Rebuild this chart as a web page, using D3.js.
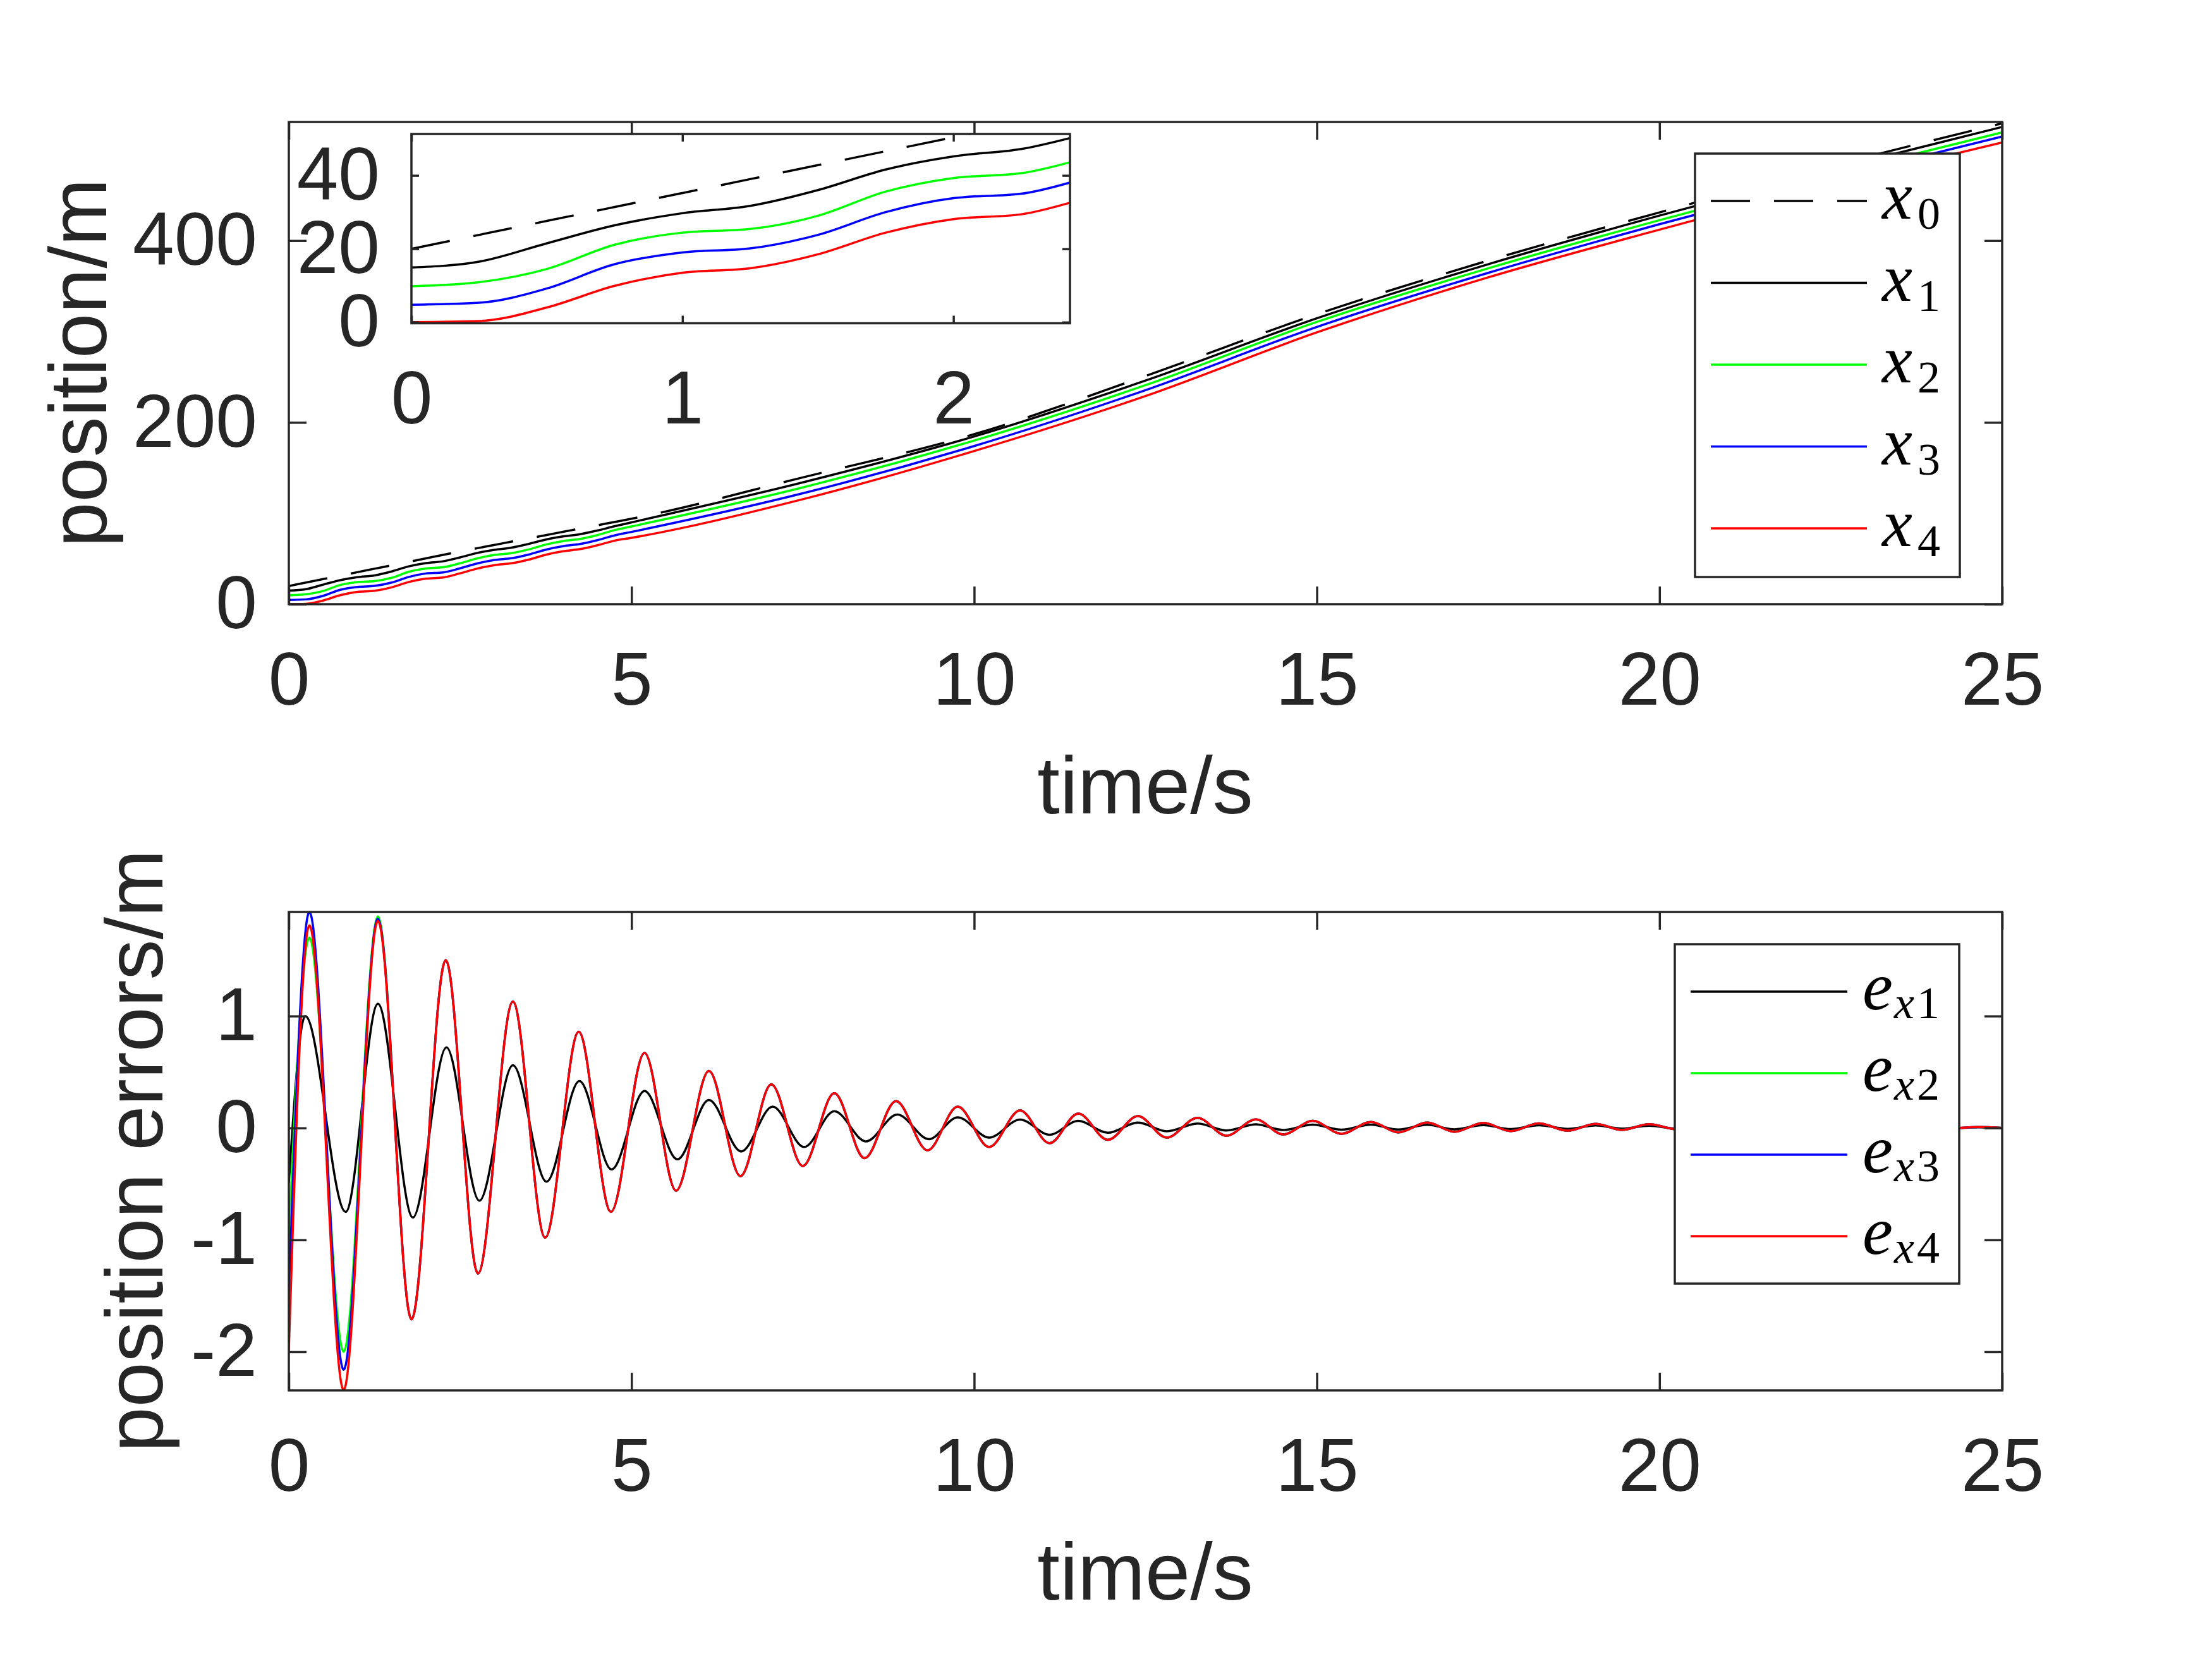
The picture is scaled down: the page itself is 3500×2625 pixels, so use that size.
<!DOCTYPE html>
<html>
<head>
<meta charset="utf-8">
<script src="https://cdn.jsdelivr.net/npm/d3@7"></script>
<style>
  body { margin: 0; background: #fff; }
</style>
</head>
<body>
<svg id="chart"></svg>
<script>
// positions
const posTime = [0, 0.25, 0.5, 0.75, 1, 1.25, 1.5, 1.75, 2, 2.25, 2.5, 2.75, 3, 3.25, 3.5, 3.75, 4, 4.25, 4.5, 4.75, 5, 7.5, 10, 12.5, 15, 17.5, 20, 22.5, 25]
const x0 = [20, 23.8, 27.6, 31.4, 35.2, 39, 42.8, 46.6, 50.4, 54.2, 58, 61.6, 65.2, 68.8, 72.4, 76, 79.6, 83.2, 86.8, 90.4, 94, 139.5, 187, 251, 319, 378, 431, 482, 529]
const x1 = [14.9, 16.5, 21.5, 26.4, 29.7, 31.7, 36, 41.6, 45.2, 47.2, 51.5, 56.4, 59.8, 62.2, 66.3, 71.1, 74.5, 77, 81, 85.7, 90, 134, 184.5, 246, 314.5, 374, 427.5, 478, 525]
const x2 = [9.8, 10.9, 14.5, 21.1, 24.4, 25.4, 29.0, 35.6, 39.3, 40.6, 45, 50.4, 54.2, 56.2, 60.2, 65.6, 69.4, 71.8, 76, 81.4, 85.5, 128.5, 180, 241, 310.5, 369.5, 422.5, 472.5, 519]
const x3 = [4.75, 5.3, 9.2, 15.8, 19.0, 20.1, 23.8, 30.0, 33.8, 35.0, 39.5, 44.8, 48.6, 50.6, 54.6, 60, 63.8, 66.2, 70.4, 75.6, 79.5, 122, 174, 235.5, 305, 364.5, 418, 468, 514.5]
const x4 = [0, 0.3, 4.0, 9.9, 13.5, 14.7, 18.5, 24.4, 28.1, 29.4, 34, 39.2, 43, 45, 49, 54.4, 58.2, 60.6, 64.8, 69.8, 73, 115.5, 168.5, 229, 299, 359.5, 412, 462, 508]

// position errors, peaks and troughs
const errTime1 = [0, 0.24, 0.83, 1.30, 1.81, 2.30, 2.78, 3.27, 3.76, 4.24, 4.71, 5.19, 5.67, 6.13, 6.60, 7.06, 7.52, 7.96, 8.42, 8.88, 9.34, 9.76, 10.22, 10.67, 11.10, 11.52, 11.95, 12.39, 12.81, 13.26, 13.68, 14.11, 14.51, 14.94, 15.36, 15.79, 16.19, 16.61, 17.01, 17.43, 17.83, 18.24, 18.66, 19.07, 19.45, 19.85, 20.25, 20.65, 21.05, 21.45, 21.85, 22.25, 22.65, 23.05, 23.45, 23.85, 24.25, 24.65, 25]
const ex1 = [-0.49, 1.0, -0.75, 1.11, -0.80, 0.72, -0.65, 0.56, -0.48, 0.42, -0.37, 0.33, -0.28, 0.25, -0.21, 0.19, -0.17, 0.15, -0.12, 0.12, -0.10, 0.095, -0.086, 0.075, -0.06, 0.063, -0.043, 0.048, -0.03, 0.039, -0.022, 0.032, -0.018, 0.03, -0.016, 0.03, -0.014, 0.028, -0.012, 0.026, -0.01, 0.024, -0.008, 0.022, -0.006, 0.02, -0.005, 0.017, -0.004, 0.014, -0.003, 0.012, -0.002, 0.01, -0.002, 0.008, -0.001, 0.005, 0]
const errTime = [0, 0.30, 0.80, 1.30, 1.79, 2.29, 2.76, 3.27, 3.74, 4.23, 4.70, 5.19, 5.65, 6.13, 6.59, 7.04, 7.50, 7.96, 8.40, 8.86, 9.32, 9.76, 10.22, 10.67, 11.10, 11.52, 11.95, 12.39, 12.81, 13.26, 13.68, 14.11, 14.51, 14.94, 15.36, 15.79, 16.19, 16.61, 17.01, 17.43, 17.83, 18.24, 18.66, 19.07, 19.45, 19.85, 20.25, 20.65, 21.05, 21.45, 21.85, 22.25, 22.65, 23.05, 23.45, 23.85, 24.25, 24.65, 25]
const errTail = [-1.71, 1.50, -1.30, 1.13, -0.98, 0.86, -0.75, 0.67, -0.56, 0.51, -0.43, 0.39, -0.34, 0.31, -0.27, 0.24, -0.20, 0.19, -0.17, 0.157, -0.136, 0.129, -0.106, 0.106, -0.086, 0.091, -0.069, 0.076, -0.058, 0.063, -0.052, 0.054, -0.039, 0.048, -0.034, 0.045, -0.028, 0.041, -0.024, 0.037, -0.017, 0.034, -0.012, 0.028, -0.01, 0.024, -0.008, 0.02, -0.006, 0.016, -0.004, 0.012, -0.003, 0.008, 0]
const ex2 = [-0.98, 1.70, -2.0, 1.89].concat(errTail)
const ex3 = [-1.49, 1.93, -2.16, 1.87].concat(errTail)
const ex4 = [-1.99, 1.81, -2.34, 1.85].concat(errTail)

const timeTicks = [0, 5, 10, 15, 20, 25]
const posTicks = [0, 200, 400]
const errTicks = [-2, -1, 0, 1]
const insetTimeTicks = [0, 1, 2]
const insetPosTicks = [0, 20, 40]

const posSeries = [
  { name: "0", values: x0, color: "#000000", dash: "62,38" },
  { name: "1", values: x1, color: "#000000" },
  { name: "2", values: x2, color: "#00ff00" },
  { name: "3", values: x3, color: "#0000ff" },
  { name: "4", values: x4, color: "#ff0000" }
]
const errSeries = [
  { name: "1", time: errTime1, values: ex1, color: "#000000" },
  { name: "2", time: errTime, values: ex2, color: "#00ff00" },
  { name: "3", time: errTime, values: ex3, color: "#0000ff" },
  { name: "4", time: errTime, values: ex4, color: "#ff0000" }
]

const width = 3500, height = 2625
const ink = "#262626"
const sans = "'Liberation Sans', Arial, sans-serif"
const serif = "'Liberation Serif', 'Times New Roman', serif"

const svg = d3.select("#chart").attr("width", width).attr("height", height)
svg.append("rect").attr("width", width).attr("height", height).attr("fill", "#fff")
const defs = svg.append("defs")

const xTop = d3.scaleLinear().domain([0, 25]).range([457, 3168])
const yTop = d3.scaleLinear().domain([0, 530.5]).range([956, 193])
const xBot = d3.scaleLinear().domain([0, 25]).range([457, 3168])
const yBot = d3.scaleLinear().domain([-2.345, 1.93]).range([2200, 1443])
const xIn = d3.scaleLinear().domain([0, 2.43]).range([651, 1693])
const yIn = d3.scaleLinear().domain([-0.3, 51.3]).range([511.5, 212])

function clip(id, x, y) {
  defs.append("clipPath").attr("id", id)
    .append("rect")
    .attr("x", x.range()[0]).attr("y", y.range()[1])
    .attr("width", x.range()[1] - x.range()[0])
    .attr("height", y.range()[0] - y.range()[1])
}

function styleAxis(g) {
  g.select(".domain").remove()
  g.selectAll("line").attr("stroke", ink).attr("stroke-width", 3.5)
  g.selectAll("text")
    .attr("fill", ink)
    .attr("font-family", sans)
    .attr("font-size", 118)
}

function frame(g, x, y, xt, yt, tick) {
  const [l, r] = x.range()
  const [b, t] = y.range()
  const fmt = d => String(d)
  g.append("g").attr("transform", `translate(0,${b})`)
    .call(d3.axisBottom(x).tickValues(xt).tickSizeInner(-tick).tickSizeOuter(0).tickPadding(75).tickFormat(fmt))
    .call(styleAxis)
  g.append("g").attr("transform", `translate(0,${t})`)
    .call(d3.axisTop(x).tickValues(xt).tickSizeInner(-tick).tickSizeOuter(0).tickFormat(""))
    .call(styleAxis)
  g.append("g").attr("transform", `translate(${l},0)`)
    .call(d3.axisLeft(y).tickValues(yt).tickSizeInner(-tick).tickSizeOuter(0).tickPadding(50).tickFormat(fmt))
    .call(styleAxis)
  g.append("g").attr("transform", `translate(${r},0)`)
    .call(d3.axisRight(y).tickValues(yt).tickSizeInner(-tick).tickSizeOuter(0).tickFormat(""))
    .call(styleAxis)
  g.append("rect")
    .attr("x", l).attr("y", t)
    .attr("width", r - l).attr("height", b - t)
    .attr("fill", "none").attr("stroke", ink).attr("stroke-width", 3.5)
}

function drawLines(g, x, y, series, clipId, timeOf) {
  const line = d3.line().curve(d3.curveMonotoneX)
  g.append("g").attr("clip-path", `url(#${clipId})`)
    .selectAll("path")
    .data(series)
    .join("path")
    .attr("d", s => line(s.values.map((v, i) => [x(timeOf(s)[i]), y(v)])))
    .attr("fill", "none")
    .attr("stroke", s => s.color)
    .attr("stroke-width", 3.5)
    .attr("stroke-dasharray", s => s.dash || null)
}

// top panel
clip("clipTop", xTop, yTop)
const topPanel = svg.append("g")
drawLines(topPanel, xTop, yTop, posSeries, "clipTop", () => posTime)
frame(topPanel, xTop, yTop, timeTicks, posTicks, 28)

// inset
clip("clipIn", xIn, yIn)
const inset = svg.append("g")
inset.append("rect")
  .attr("x", xIn.range()[0]).attr("y", yIn.range()[1])
  .attr("width", xIn.range()[1] - xIn.range()[0])
  .attr("height", yIn.range()[0] - yIn.range()[1])
  .attr("fill", "#fff")
drawLines(inset, xIn, yIn, posSeries, "clipIn", () => posTime)
frame(inset, xIn, yIn, insetTimeTicks, insetPosTicks, 12)

// bottom panel
clip("clipBot", xBot, yBot)
const botPanel = svg.append("g")
drawLines(botPanel, xBot, yBot, errSeries, "clipBot", s => s.time)
frame(botPanel, xBot, yBot, timeTicks, errTicks, 28)

// axis labels
function label(text, x, y, rotate) {
  svg.append("text")
    .attr("transform", `translate(${x},${y})` + (rotate ? " rotate(-90)" : ""))
    .attr("text-anchor", "middle")
    .attr("fill", ink)
    .attr("font-family", sans)
    .attr("font-size", 128)
    .text(text)
}
label("time/s", 1812, 1287)
label("time/s", 1812, 2531)
label("position/m", 168, 574, true)
label("position errors/m", 257, 1821, true)

// legends
function legend(box, lineX, rows, spacing, items, writeLabel) {
  const g = svg.append("g")
  g.append("rect")
    .attr("x", box.x).attr("y", box.y).attr("width", box.w).attr("height", box.h)
    .attr("fill", "#fff").attr("stroke", ink).attr("stroke-width", 3.5)
  items.forEach((s, i) => {
    const y = rows + i * spacing
    g.append("line")
      .attr("x1", lineX[0]).attr("x2", lineX[1])
      .attr("y1", y).attr("y2", y)
      .attr("stroke", s.color).attr("stroke-width", 3.5)
      .attr("stroke-dasharray", s.dash || null)
    const t = g.append("text")
      .attr("x", lineX[1] + 24).attr("y", y + 28)
      .attr("font-family", serif).attr("font-size", 108).attr("fill", "#000")
    writeLabel(t, s)
  })
}

legend({ x: 2682, y: 243, w: 419, h: 670 }, [2707, 2954], 318, 129.5, posSeries, (t, s) => {
  t.append("tspan").attr("font-style", "italic").text("x")
  t.append("tspan").attr("dx", 8).attr("dy", 16).attr("font-size", 72).text(s.name)
})
legend({ x: 2650, y: 1494, w: 450, h: 537 }, [2675, 2923], 1569, 129, errSeries, (t, s) => {
  t.append("tspan").attr("font-style", "italic").text("e")
  t.append("tspan").attr("dx", 2).attr("dy", 14).attr("font-size", 72).attr("font-style", "italic").text("x")
  t.append("tspan").attr("dx", 4).attr("font-size", 72).text(s.name)
})
</script>
</body>
</html>
